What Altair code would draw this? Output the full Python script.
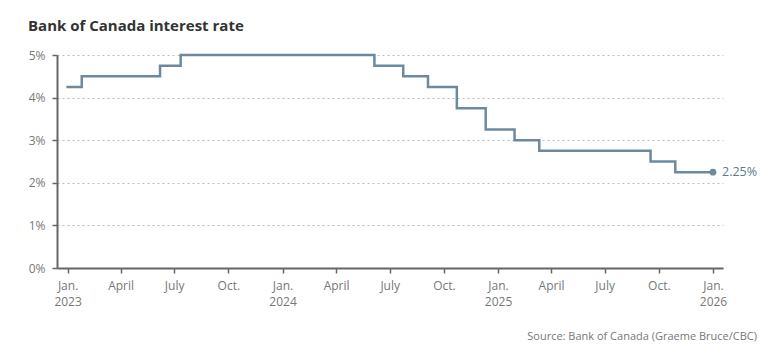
import altair as alt
import pandas as pd

dates = ["2022-12-30", "2023-01-25", "2023-06-07", "2023-07-12", "2024-06-05",
         "2024-07-24", "2024-09-04", "2024-10-23", "2024-12-11", "2025-01-29",
         "2025-03-12", "2025-09-17", "2025-10-29", "2026-01-01"]
rates = [4.25, 4.5, 4.75, 5.0, 4.75, 4.5, 4.25, 3.75, 3.25, 3.0, 2.75, 2.5, 2.25, 2.25]

title_text = "Bank of Canada interest rate"
source_text = "Source: Bank of Canada (Graeme Bruce/CBC)"
end_label = "2.25%"

df = pd.DataFrame({"date": dates, "rate": rates})
last = df.tail(1).assign(label=end_label)

FONT = "Open Sans"
LINE = "#6b8aa1"

x_scale = alt.Scale(type="utc", domain=["2022-12-14", "2026-01-18"])
y_scale = alt.Scale(domain=[0, 5])

label_expr = (
    "utcmonth(datum.value) == 0 ? ['Jan.', utcFormat(datum.value, '%Y')] : "
    "utcmonth(datum.value) == 3 ? 'April' : "
    "utcmonth(datum.value) == 6 ? 'July' : 'Oct.'"
)

base = alt.Chart(df)

line = base.mark_line(interpolate="step-after", color=LINE, strokeWidth=2.5).encode(
    x=alt.X("date:T", scale=x_scale, title=None,
            axis=alt.Axis(tickCount={"interval": "month", "step": 3},
                          labelExpr=label_expr, grid=False,
                          domainColor="#666", domainWidth=2,
                          tickColor="#666", tickWidth=1.5, tickSize=5,
                          labelColor="#777", labelFont=FONT, labelFontSize=12,
                          labelPadding=7, labelLineHeight=16, labelFlush=False)),
    y=alt.Y("rate:Q", scale=y_scale, title=None,
            axis=alt.Axis(values=[0, 1, 2, 3, 4, 5], labelExpr="datum.value + '%'",
                          grid=True, gridDash=[2, 3], gridColor="#b5bcc2", gridWidth=1,
                          domainColor="#666", domainWidth=2,
                          tickColor="#666", tickWidth=1.5, tickSize=5,
                          labelColor="#777", labelFont=FONT, labelFontSize=12,
                          labelPadding=7)),
)

pt = alt.Chart(last).mark_point(filled=True, size=45, color=LINE, opacity=1).encode(
    x=alt.X("date:T", scale=x_scale, title=None),
    y=alt.Y("rate:Q", scale=y_scale, title=None))

lbl = alt.Chart(last).mark_text(align="left", dx=9, color="#5d7a90", font=FONT,
                                fontSize=12.5, baseline="middle").encode(
    x=alt.X("date:T", scale=x_scale, title=None),
    y=alt.Y("rate:Q", scale=y_scale, title=None), text="label:N")

src = alt.Chart(pd.DataFrame({"t": [source_text]})).mark_text(
    align="right", baseline="middle", color="#777", font=FONT, fontSize=11).encode(
    text="t:N", x=alt.value(700), y=alt.value(282))

chart = alt.layer(line, pt, lbl, src).properties(
    width=666, height=213,
    title=alt.TitleParams(title_text, anchor="start", frame="group", dx=-29, offset=15,
                          font=FONT, fontSize=15, fontWeight="bold", color="#333"),
    autosize=alt.AutoSizeParams(type="none"),
    padding={"left": 57, "top": 55, "right": 55, "bottom": 85},
).configure(background="white").configure_view(strokeWidth=0, stroke="transparent")

chart.save("out.html", embed_options={"renderer": "svg", "actions": False})
